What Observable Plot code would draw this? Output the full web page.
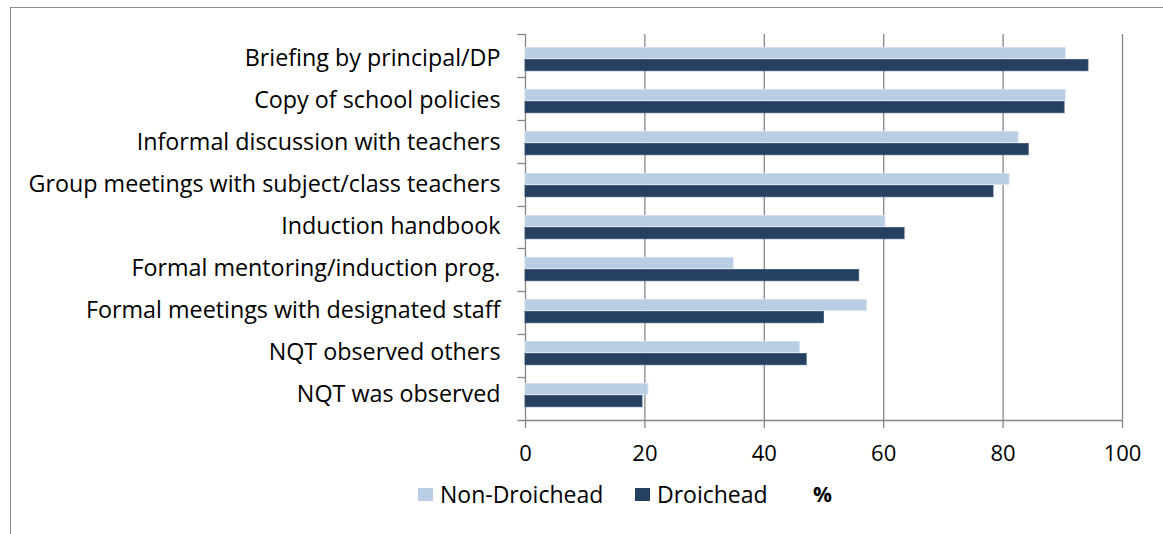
<!DOCTYPE html>
<html>
<head>
<meta charset="utf-8">
<script src="https://cdn.jsdelivr.net/npm/d3@7"></script>
<script src="https://cdn.jsdelivr.net/npm/@observablehq/plot@0.6"></script>
<style>
  html, body { margin: 0; padding: 0; background: #fff; }
  body { width: 1163px; height: 534px; position: relative; overflow: hidden; font-family: "Open Sans", Lato, sans-serif; }
  #frame { position: absolute; left: 10px; top: 7px; width: 1160px; height: 540px; border-left: 1px solid #8c8c8c; border-top: 1px solid #8c8c8c; box-sizing: border-box; }
  #chart { position: absolute; left: 0; top: 0; }
  .leg { position: absolute; top: 478px; font-size: 23px; color: #000; display: flex; align-items: center; white-space: nowrap; }
  .sw { display: inline-block; width: 15px; height: 13px; margin-right: 7px; }
  .unit { position: absolute; top: 480px; font-size: 21px; font-weight: bold; color: #000; }
</style>
</head>
<body>
<div id="frame"></div>
<div id="chart"></div>
<script>
// ---- data ----
const categories = [
  "Briefing by principal/DP",
  "Copy of school policies",
  "Informal discussion with teachers",
  "Group meetings with subject/class teachers",
  "Induction handbook",
  "Formal mentoring/induction prog.",
  "Formal meetings with designated staff",
  "NQT observed others",
  "NQT was observed"
];
const seriesNames = ["Non-Droichead", "Droichead"];
const nonDroichead = [90.5, 90.5, 82.6, 81.1, 60.3, 34.9, 57.2, 46.0, 20.6];
const droichead    = [94.3, 90.3, 84.3, 78.4, 63.5, 55.9, 50.0, 47.1, 19.6];
const xTicks = [0, 20, 40, 60, 80, 100];
const unitLabel = "%";

// ---- styles ----
const colors = ["#b9cde5", "#254061"];
const gridColor = "#868686";

const rows = categories.map((c, i) => ({category: c, nd: nonDroichead[i], d: droichead[i]}));

const width = 1163, height = 470;
const margins = {top: 34, right: 41, bottom: 50, left: 525};
const step = (height - margins.top - margins.bottom) / categories.length;
const outer = step * 0.215;           // gap above/below the pair of bars
const barH = (step - 2 * outer) / 2;  // each bar's height

function boundaryTicks(index, scales, values, dimensions) {
  const {marginTop, marginBottom, height: h} = dimensions;
  const n = categories.length;
  const bottom = h - marginBottom;
  const st = (bottom - marginTop) / n;
  const x0 = Math.round(scales.x(xTicks[0])) + 0.5;
  const x1 = scales.x(xTicks[xTicks.length - 1]);
  const g = d3.create("svg:g").attr("stroke", gridColor).attr("stroke-width", 1.3);
  for (let i = 0; i < n; i++) {
    const yy = Math.round(marginTop + i * st) + 0.5;
    g.append("line").attr("x1", x0 - 8).attr("x2", x0).attr("y1", yy).attr("y2", yy);
  }
  const yb = Math.round(bottom) + 0.5;
  g.append("line").attr("x1", x0 - 8).attr("x2", x1).attr("y1", yb).attr("y2", yb);
  return g.node();
}

const plot = Plot.plot({
  width, height,
  marginTop: margins.top, marginRight: margins.right, marginBottom: margins.bottom, marginLeft: margins.left,
  style: {fontFamily: "'Open Sans', Lato, sans-serif", fontSize: "22px", color: "#000", background: "transparent", overflow: "visible"},
  x: {domain: [0, 100], ticks: xTicks},
  y: {domain: categories, padding: 0},
  marks: [
    Plot.ruleX(xTicks.slice(1), {stroke: gridColor, strokeWidth: 1.3, strokeOpacity: 1}),
    Plot.ruleX([xTicks[0]], {stroke: gridColor, strokeWidth: 1.3, strokeOpacity: 1}),
    Plot.barX(rows, {x: "nd", y: "category", fill: colors[0], stroke: "#dce6f2", strokeWidth: 0.8,
      insetTop: outer, insetBottom: outer + barH}),
    Plot.barX(rows, {x: "d", y: "category", fill: colors[1], stroke: "#3b5475", strokeWidth: 0.8,
      insetTop: outer + barH, insetBottom: outer}),
    boundaryTicks,
    Plot.axisX({ticks: xTicks, tickSize: 8, tickPadding: 17, stroke: gridColor, strokeWidth: 1.3, fontSize: 22, fill: "#000", label: null}),
    Plot.axisY({tickSize: 0, tickPadding: 25, fontSize: 23.3, fill: "#000", label: null, dy: -1})
  ]
});
document.getElementById("chart").appendChild(plot);

// ---- legend ----
const legendLefts = [418, 635];
seriesNames.forEach((name, i) => {
  const item = document.createElement("div");
  item.className = "leg";
  item.style.left = legendLefts[i] + "px";
  const sw = document.createElement("span");
  sw.className = "sw";
  sw.style.background = colors[i];
  item.appendChild(sw);
  item.appendChild(document.createTextNode(name));
  document.body.appendChild(item);
});
const unit = document.createElement("div");
unit.className = "unit";
unit.style.left = "813px";
unit.textContent = unitLabel;
document.body.appendChild(unit);
</script>
</body>
</html>
